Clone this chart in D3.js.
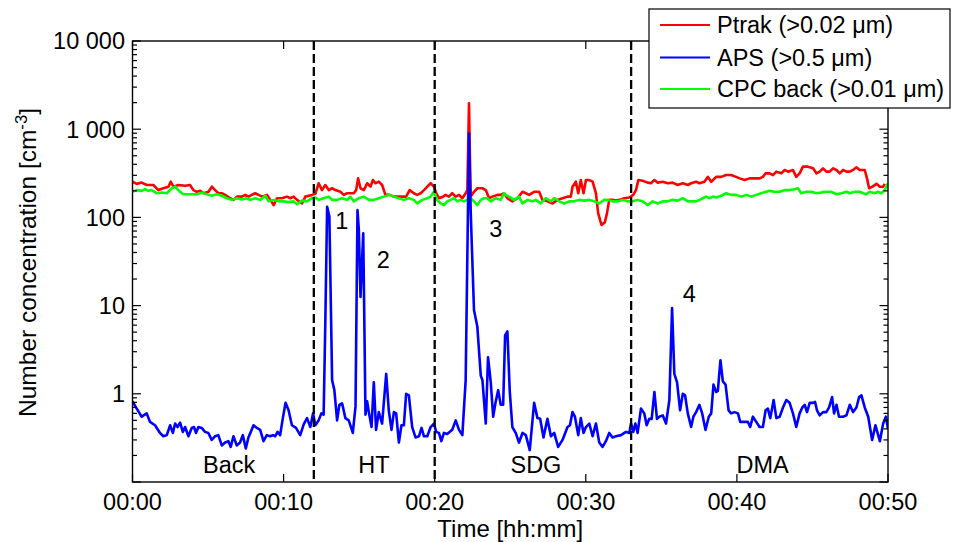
<!DOCTYPE html>
<html><head><meta charset="utf-8">
<script src="https://cdn.jsdelivr.net/npm/d3@7"></script>
<style>
body{margin:0;background:#fff;}
svg{display:block;}
text{font-family:Arial,"Liberation Sans",sans-serif;fill:#000;}
</style>
</head><body>
<svg id="chart" width="955" height="542"></svg>
<script>
// ---------------- DATA ----------------
const xTickValues = [0, 10, 20, 30, 40, 50];
const xTickLabels = ["00:00", "00:10", "00:20", "00:30", "00:40", "00:50"];
const yTickValues = [1, 10, 100, 1000, 10000];
const yTickLabels = ["1", "10", "100", "1 000", "10 000"];
const phaseBounds = [12, 20, 33];
const phaseNames = ["Back", "HT", "SDG", "DMA"];
const phaseLabelTimes = [6.4, 15.98, 26.7, 41.7];
const peakNames = ["1", "2", "3", "4"];
const peakTimes = [13.85, 16.6, 24.05, 36.85];
const peakValues = [74, 27, 60, 11];
const seriesNames = ["Ptrak (>0.02 \u03bcm)", "APS (>0.5 \u03bcm)", "CPC back (>0.01 \u03bcm)"];
const seriesColors = ["#ff0000", "#0000ff", "#00ff00"];

const ptrakTime = [0,0.28,0.61,0.94,1.38,1.71,2.04,2.38,2.53,2.71,3.04,3.48,3.81,4.03,4.26,4.48,4.70,5.03,5.25,5.47,5.69,5.91,6.13,6.47,6.69,6.91,7.24,7.46,7.68,7.90,8.12,8.34,8.57,8.90,9.12,9.34,9.56,9.89,10.22,10.45,10.67,10.89,11.22,11.44,11.88,12.10,
12.32,12.54,12.76,12.99,13.21,13.43,13.76,13.98,14.20,14.42,14.64,14.80,14.93,15.09,15.31,15.53,15.75,15.91,16.08,16.30,16.52,16.74,17.01,17.30,17.52,17.85,18.11,18.34,18.62,18.84,19.07,19.29,19.51,19.73,19.95,20.10,20.28,20.50,20.72,20.94,21.16,21.39,21.61,21.83,22.05,22.16,22.27,22.38,22.60,22.82,23.16,23.38,23.60,23.82,24.15,24.37,
24.59,24.81,25.14,25.47,25.81,26.03,26.25,26.58,26.91,27.13,27.46,27.80,28.13,28.46,28.79,29.01,29.12,29.34,29.50,29.67,29.85,30.01,30.23,30.45,30.67,30.82,31.04,31.26,31.40,31.55,31.77,32.00,32.22,32.55,32.88,33.14,33.32,33.48,33.76,34.09,34.31,34.54,34.76,35.09,35.42,35.75,36.08,36.42,36.75,36.97,
37.30,37.52,37.85,38.08,38.30,38.63,38.96,39.29,39.62,39.95,40.18,40.51,40.84,41.17,41.50,41.72,41.90,42.16,42.39,42.61,42.94,43.16,43.38,43.71,43.93,44.15,44.37,44.70,45.04,45.26,45.48,45.70,45.92,46.14,46.36,46.59,46.81,47.03,47.25,47.47,47.69,47.91,48.13,48.46,48.61,48.75,48.97,49.24,49.46,49.68,49.79];
const ptrakValue = [254,240,248,233,233,204,214,223,254,223,233,228,233,204,195,200,188,195,223,204,188,188,180,165,158,172,172,180,172,180,188,180,172,180,158,138,165,165,172,165,172,158,144,172,180,185,
244,204,233,204,214,204,195,180,188,188,188,204,277,214,204,244,223,265,244,254,233,180,180,172,172,172,172,204,188,180,188,204,223,244,223,188,165,170,180,172,188,172,180,165,188,204,1970,172,195,214,214,204,165,172,180,180,
188,165,152,165,195,188,180,195,195,158,152,144,158,165,172,172,223,254,188,265,188,265,265,254,188,111,82,88,111,158,158,155,158,165,168,180,204,265,260,248,244,265,248,254,244,248,233,244,233,244,
254,244,254,288,254,288,288,302,302,288,277,265,277,277,277,288,316,316,302,330,316,345,330,345,288,316,376,376,360,316,330,360,330,330,360,345,316,345,330,330,345,370,345,345,277,214,223,240,223,223,240];

const apsTime = [
0,0.28,0.61,0.94,1.16,1.49,1.82,2.04,2.27,2.49,
2.67,2.82,2.98,3.15,3.33,3.48,3.70,3.92,4.07,4.20,
4.36,4.58,4.80,5.02,5.24,5.46,5.68,5.91,6.13,6.35,
6.50,6.68,6.90,7.12,7.30,7.50,7.67,7.83,8.01,8.23,
8.45,8.67,8.89,9.11,9.29,9.44,9.60,9.77,9.95,10.13,
10.33,10.55,10.82,11.10,11.33,11.55,11.77,11.95,12.10,12.32,
12.50,12.65,12.76,12.88,13.03,13.21,13.36,13.54,13.69,13.87,
14.09,14.31,14.58,14.76,14.89,14.98,15.09,15.27,15.42,15.53,
15.64,15.82,15.97,16.12,16.30,16.52,16.79,16.96,17.14,17.30,
17.45,17.63,17.80,17.96,18.11,18.29,18.51,18.73,18.96,19.13,
19.29,19.51,19.73,19.95,20.10,20.28,20.44,20.61,20.83,21.16,
21.39,21.61,21.83,22.05,22.16,22.27,22.38,22.60,22.82,23.05,
23.16,23.38,23.53,23.71,23.87,24.04,24.20,24.37,24.53,24.66,
24.81,24.97,25.14,25.36,25.58,25.81,26.03,26.29,26.58,26.80,
26.98,27.20,27.46,27.69,27.91,28.17,28.46,28.79,28.95,29.12,
29.28,29.50,29.67,29.85,30.01,30.23,30.45,30.67,30.89,31.11,
31.33,31.55,31.77,32.00,32.33,32.66,32.88,32.99,33.14,33.28,
33.43,33.65,33.87,34.03,34.20,34.36,34.54,34.71,34.87,35.09,
35.31,35.53,35.71,35.86,36.04,36.24,36.42,36.57,36.75,36.97,
37.12,37.30,37.52,37.70,37.92,38.14,38.30,38.45,38.63,38.74,
38.91,39.07,39.25,39.45,39.62,39.84,40.07,40.22,40.51,40.73,
40.88,41.06,41.28,41.50,41.72,41.90,42.05,42.21,42.43,42.61,
42.83,43.05,43.27,43.49,43.71,43.93,44.15,44.33,44.49,44.64,
44.82,45.04,45.17,45.30,45.48,45.70,45.92,46.10,46.30,46.43,
46.59,46.76,47.03,47.25,47.47,47.69,47.91,48.09,48.24,48.46,
48.69,48.95,49.17,49.46,49.68,49.86,50.00];
const apsValue = [
0.82,0.68,0.55,0.60,0.48,0.44,0.36,0.33,0.34,0.44,
0.36,0.46,0.42,0.47,0.37,0.42,0.33,0.41,0.42,0.36,
0.42,0.41,0.37,0.36,0.30,0.33,0.34,0.26,0.28,0.29,
0.25,0.33,0.26,0.28,0.34,0.24,0.32,0.37,0.44,0.41,
0.39,0.29,0.34,0.33,0.34,0.33,0.37,0.34,0.53,0.79,
0.65,0.44,0.41,0.34,0.45,0.53,0.42,0.60,0.44,0.50,
0.60,0.58,6.3,132,102,1.43,1.1,0.50,0.75,0.78,
0.53,0.50,0.36,0.72,121,72,12.5,66,0.58,0.82,
0.62,0.42,1.35,0.39,0.62,0.46,1.68,0.65,0.39,0.62,
0.60,0.28,0.44,0.44,1.0,0.96,0.42,0.32,0.33,0.41,
0.33,0.33,0.42,0.46,0.37,0.36,0.29,0.36,0.35,0.39,
0.50,0.39,0.34,1.43,36,890,121,8.9,5.8,1.6,
1.43,0.46,2.6,1.35,0.55,0.82,1.1,0.75,0.75,4.6,
5.1,1.05,0.42,0.36,0.28,0.36,0.34,0.23,0.79,0.53,
0.52,0.32,0.52,0.33,0.36,0.25,0.30,0.42,0.44,0.62,
0.55,0.34,0.53,0.36,0.42,0.46,0.33,0.46,0.28,0.25,
0.29,0.36,0.32,0.33,0.34,0.37,0.36,0.46,0.37,0.46,
0.36,0.68,0.60,0.44,0.52,0.52,1.05,0.52,0.55,0.57,
0.46,0.85,9.4,1.68,1.35,0.65,1.0,0.96,0.60,0.42,
0.55,0.62,0.75,0.60,0.39,0.55,0.60,1.27,1.05,1.08,
2.4,1.38,1.27,0.65,0.60,0.62,0.60,0.48,0.48,0.48,
0.42,0.55,0.48,0.42,0.42,0.65,0.68,0.53,0.85,0.53,
0.55,0.70,0.85,0.79,0.60,0.42,0.60,0.70,0.75,0.62,
0.79,0.79,0.81,0.65,0.57,0.62,0.62,0.70,0.92,0.60,
0.75,0.55,0.55,0.57,0.75,0.62,0.70,0.92,0.96,0.70,
0.55,0.30,0.44,0.29,0.46,0.55,0.40];

const cpcTime = [0,0.28,0.61,0.83,1.05,1.27,1.60,1.93,2.27,2.60,2.82,3.15,3.37,3.81,4.26,4.59,4.92,5.25,5.58,5.91,6.24,6.58,6.91,7.24,7.57,7.79,8.12,8.45,8.79,9.01,9.34,9.67,10.00,10.34,10.67,10.89,11.22,11.55,11.88,12.10,
12.32,12.65,12.99,13.21,13.54,13.87,14.20,14.42,14.64,14.98,15.31,15.64,15.97,16.30,16.63,16.96,17.30,17.63,17.96,18.29,18.62,18.84,19.18,19.51,19.73,19.95,20.17,20.39,20.61,20.83,21.05,21.28,21.50,21.72,21.94,22.16,22.38,22.60,22.82,23.05,23.27,23.49,23.71,24.04,24.37,24.59,
24.70,24.92,25.25,25.58,25.81,26.14,26.47,26.69,27.02,27.35,27.69,27.91,28.24,28.57,28.90,29.23,29.56,29.89,30.23,30.56,30.89,31.22,31.44,31.77,32.11,32.44,32.77,33.10,33.43,33.76,34.09,34.43,34.76,35.09,35.42,35.75,36.08,36.42,36.75,36.97,
37.30,37.52,37.74,37.96,38.19,38.41,38.63,38.96,39.29,39.62,39.95,40.29,40.62,40.95,41.28,41.61,41.94,42.16,42.49,42.83,43.16,43.49,43.82,44.04,44.26,44.59,44.92,45.26,45.59,45.92,46.25,46.59,46.92,47.25,47.47,47.80,48.13,48.35,48.57,48.79,49.12,49.34,49.56,49.79,50.00];
const cpcValue = [195,204,200,209,200,204,188,192,188,214,223,195,183,183,183,190,183,176,183,176,165,158,165,160,165,158,165,158,176,152,158,152,152,149,152,141,155,152,165,168,
158,165,172,158,158,165,158,172,152,165,172,158,158,165,172,180,172,165,158,165,158,144,158,165,172,195,158,144,138,152,158,165,152,158,152,158,165,152,138,158,165,165,152,165,158,188,
180,172,158,172,144,158,152,158,144,165,152,165,152,144,152,152,158,155,158,152,144,158,158,152,152,158,152,152,158,152,138,152,144,152,152,158,155,165,152,152,
152,158,165,172,165,172,168,176,188,180,180,172,180,172,180,188,195,200,195,195,204,204,209,214,188,195,195,188,192,195,195,183,188,195,188,195,195,188,183,195,188,195,188,204,244];

// ---------------- LAYOUT ----------------
const M = {left: 132.5, right: 888, top: 41, bottom: 482};
const FONT = 23.5;
const svg = d3.select("#chart");
const x = d3.scaleLinear().domain([0, 50]).range([M.left, M.right]);
const y = d3.scaleLog().domain([0.1, 10000]).range([M.bottom, M.top]);

svg.append("defs").append("clipPath").attr("id", "clip")
  .append("rect").attr("x", M.left).attr("y", M.top)
  .attr("width", M.right - M.left).attr("height", M.bottom - M.top);

const line = d3.line().x(d => x(d[0])).y(d => y(d[1]));
const series = [
  {t: ptrakTime, v: ptrakValue, c: seriesColors[0]},
  {t: cpcTime, v: cpcValue, c: seriesColors[2]},
  {t: apsTime, v: apsValue, c: seriesColors[1]}
];
const gLines = svg.append("g").attr("clip-path", "url(#clip)");
series.forEach(s => {
  gLines.append("path").datum(s.t.map((t, i) => [t, s.v[i]]))
    .attr("d", line).attr("fill", "none").attr("stroke", s.c)
    .attr("stroke-width", 2.6).attr("stroke-linejoin", "round");
});

// phase boundaries
svg.selectAll(".phase").data(phaseBounds).enter().append("line")
  .attr("x1", d => x(d)).attr("x2", d => x(d))
  .attr("y1", M.top).attr("y2", M.bottom)
  .attr("stroke", "#000").attr("stroke-width", 2.3)
  .attr("stroke-dasharray", "9,4");

// phase labels
svg.selectAll(".plab").data(phaseNames).enter().append("text")
  .attr("x", (d, i) => x(phaseLabelTimes[i])).attr("y", 473)
  .attr("text-anchor", "middle").attr("font-size", FONT).text(d => d);

// peak labels
svg.selectAll(".pk").data(peakNames).enter().append("text")
  .attr("x", (d, i) => x(peakTimes[i])).attr("y", (d, i) => y(peakValues[i]))
  .attr("text-anchor", "middle").attr("font-size", FONT).text(d => d);

// frame
svg.append("rect").attr("x", M.left).attr("y", M.top)
  .attr("width", M.right - M.left).attr("height", M.bottom - M.top)
  .attr("fill", "none").attr("stroke", "#000").attr("stroke-width", 1.4);

// y ticks (major + minor), both sides, inward
const minor = [];
[-1, 0, 1, 2, 3].forEach(e => { for (let k = 2; k <= 9; k++) minor.push(k * Math.pow(10, e)); });
const major = [0.1].concat(yTickValues);
const gT = svg.append("g").attr("stroke", "#000").attr("stroke-width", 1.2);
major.forEach(v => {
  gT.append("line").attr("x1", M.left).attr("x2", M.left + 8.5).attr("y1", y(v)).attr("y2", y(v));
  gT.append("line").attr("x1", M.right).attr("x2", M.right - 8.5).attr("y1", y(v)).attr("y2", y(v));
});
minor.forEach(v => {
  gT.append("line").attr("x1", M.left).attr("x2", M.left + 4.5).attr("y1", y(v)).attr("y2", y(v));
  gT.append("line").attr("x1", M.right).attr("x2", M.right - 4.5).attr("y1", y(v)).attr("y2", y(v));
});
xTickValues.forEach(v => {
  gT.append("line").attr("x1", x(v)).attr("x2", x(v)).attr("y1", M.bottom).attr("y2", M.bottom - 8);
  gT.append("line").attr("x1", x(v)).attr("x2", x(v)).attr("y1", M.top).attr("y2", M.top + 8);
});

// tick labels
svg.selectAll(".yl").data(yTickValues).enter().append("text")
  .attr("x", 125).attr("y", d => y(d)).attr("dy", "0.36em")
  .attr("text-anchor", "end").attr("font-size", FONT)
  .text((d, i) => yTickLabels[i]);
svg.selectAll(".xl").data(xTickValues).enter().append("text")
  .attr("x", d => x(d)).attr("y", 510)
  .attr("text-anchor", "middle").attr("font-size", FONT)
  .text((d, i) => xTickLabels[i]);

// axis titles
svg.append("text").attr("x", (M.left + M.right) / 2).attr("y", 537)
  .attr("text-anchor", "middle").attr("font-size", 24).text("Time [hh:mm]");
const YF = 24.5;
const yt = svg.append("text").attr("transform", "translate(36,262.5) rotate(-90)")
  .attr("text-anchor", "middle").attr("font-size", YF);
yt.append("tspan").text("Number concentration [cm");
yt.append("tspan").attr("baseline-shift", "super").attr("font-size", YF * 0.68).text("-3");
yt.append("tspan").text("]");

// legend
const lg = svg.append("g");
lg.append("rect").attr("x", 649).attr("y", 9).attr("width", 301).attr("height", 99)
  .attr("fill", "#fff").attr("stroke", "#000").attr("stroke-width", 1.2);
const rowY = [25, 57.5, 89];
const legendOrder = [0, 1, 2];
legendOrder.forEach((si, i) => {
  lg.append("line").attr("x1", 660).attr("x2", 710).attr("y1", rowY[i]).attr("y2", rowY[i])
    .attr("stroke", seriesColors[si]).attr("stroke-width", 1.8);
  lg.append("text").attr("x", 717).attr("y", rowY[i]).attr("dy", "0.36em")
    .attr("font-size", FONT).text(seriesNames[si]);
});
</script>
</body></html>
